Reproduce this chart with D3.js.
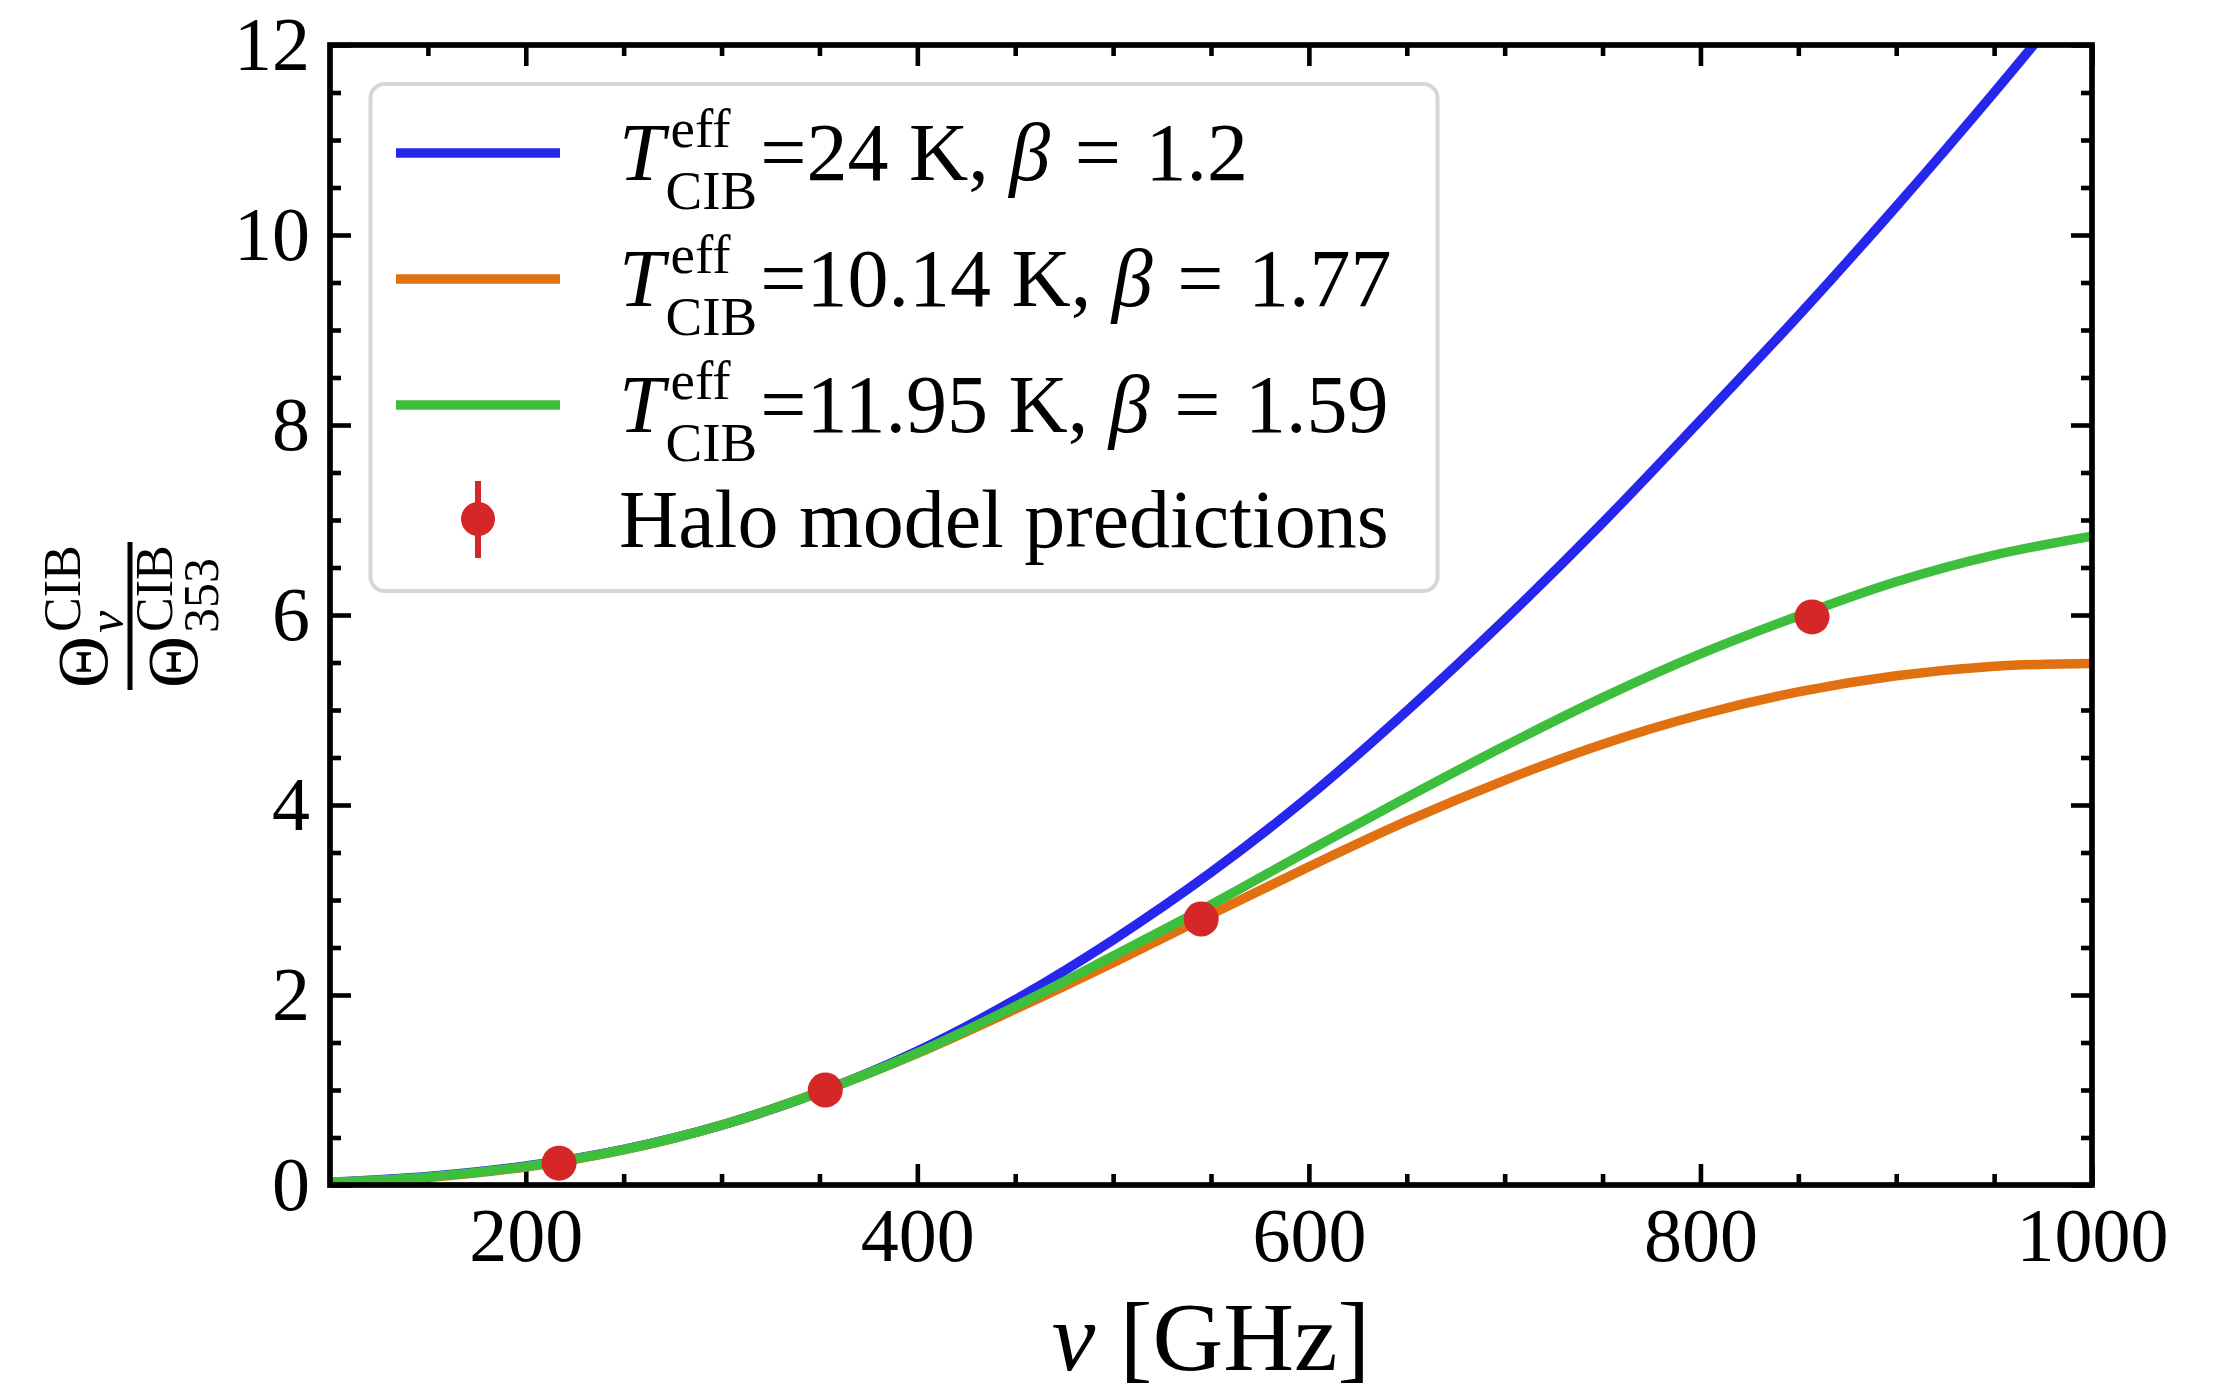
<!DOCTYPE html>
<html>
<head>
<meta charset="utf-8">
<script src="https://cdn.jsdelivr.net/npm/d3@7"></script>
<style>
  body { margin: 0; background: #fff; }
  svg { display: block; font-family: "Liberation Serif", "DejaVu Serif", serif; }
  text { white-space: pre; fill: #000; }
</style>
</head>
<body>
<svg id="chart" width="2217" height="1395"></svg>
<script>
"use strict";

const nu = [100, 150, 200, 250, 300, 353, 400, 450, 500, 550, 600, 650, 700, 750, 800, 850, 900, 950, 1000];
const blueVals = [0.03, 0.09, 0.20, 0.375, 0.63, 1.0, 1.41, 1.95, 2.58, 3.29, 4.09, 4.99, 5.95, 6.97, 8.05, 9.15, 10.30, 11.50, 12.75];
const orangeVals = [0.025, 0.08, 0.19, 0.37, 0.63, 1.0, 1.385, 1.85, 2.34, 2.85, 3.35, 3.83, 4.26, 4.64, 4.95, 5.19, 5.36, 5.46, 5.49];
const greenVals = [0.028, 0.085, 0.195, 0.372, 0.63, 1.0, 1.39, 1.88, 2.41, 2.95, 3.52, 4.08, 4.62, 5.13, 5.59, 5.99, 6.35, 6.63, 6.83];

// halo model points
const haloNu = [217, 353, 545, 857];
const haloVals = [0.23, 1.0, 2.80, 5.98];

const temps = ["24", "10.14", "11.95"];
const betas = ["1.2", "1.77", "1.59"];
const colors = ["#2626ec", "#e07010", "#3dbf3d"];
const pointColor = "#d62728";

const xMajor = [200, 400, 600, 800, 1000];
const xTickLabels = ["200", "400", "600", "800", "1000"];
const yMajor = [0, 2, 4, 6, 8, 10, 12];
const yTickLabels = ["0", "2", "4", "6", "8", "10", "12"];

const svg = d3.select("#chart");
const pLeft = 330, pRight = 2092, pTop = 45, pBottom = 1185;

const x = d3.scaleLinear().domain([100, 1000]).range([pLeft, pRight]);
const y = d3.scaleLinear().domain([0, 12]).range([pBottom, pTop]);

const xMinor = d3.range(150, 1000, 50).filter(v => !xMajor.includes(v));
const yMinor = d3.range(0.5, 12, 0.5).filter(v => !yMajor.includes(v));

const majorLen = 21, minorLen = 11, tickW = 4.6, tickFont = 76;

function styleAxis(g) {
  g.attr("font-size", null).attr("font-family", null);
  g.select(".domain").remove();
  g.selectAll(".tick line").attr("stroke", "#000").attr("stroke-width", tickW);
  g.selectAll(".tick text").attr("font-size", tickFont).attr("fill", "#000");
}

// bottom
svg.append("g").attr("transform", `translate(0,${pBottom})`)
  .call(d3.axisBottom(x).tickValues(xMajor).tickSize(-majorLen).tickPadding(22)
    .tickFormat((d, i) => xTickLabels[i]))
  .call(styleAxis);
svg.append("g").attr("transform", `translate(0,${pBottom})`)
  .call(d3.axisBottom(x).tickValues(xMinor).tickSize(-minorLen).tickFormat(""))
  .call(styleAxis);
// top
svg.append("g").attr("transform", `translate(0,${pTop})`)
  .call(d3.axisTop(x).tickValues(xMajor).tickSize(-majorLen).tickFormat(""))
  .call(styleAxis);
svg.append("g").attr("transform", `translate(0,${pTop})`)
  .call(d3.axisTop(x).tickValues(xMinor).tickSize(-minorLen).tickFormat(""))
  .call(styleAxis);
// left
svg.append("g").attr("transform", `translate(${pLeft},0)`)
  .call(d3.axisLeft(y).tickValues(yMajor).tickSize(-majorLen).tickPadding(20)
    .tickFormat((d, i) => yTickLabels[i]))
  .call(styleAxis);
svg.append("g").attr("transform", `translate(${pLeft},0)`)
  .call(d3.axisLeft(y).tickValues(yMinor).tickSize(-minorLen).tickFormat(""))
  .call(styleAxis);
// right
svg.append("g").attr("transform", `translate(${pRight},0)`)
  .call(d3.axisRight(y).tickValues(yMajor).tickSize(-majorLen).tickFormat(""))
  .call(styleAxis);
svg.append("g").attr("transform", `translate(${pRight},0)`)
  .call(d3.axisRight(y).tickValues(yMinor).tickSize(-minorLen).tickFormat(""))
  .call(styleAxis);

// curves
svg.append("clipPath").attr("id", "plotclip")
  .append("rect").attr("x", pLeft).attr("y", pTop)
  .attr("width", pRight - pLeft).attr("height", pBottom - pTop);

const line = d3.line()
  .x((d, i) => x(nu[i]))
  .y(d => y(d))
  .curve(d3.curveCatmullRom.alpha(0.5));

const curves = svg.append("g").attr("clip-path", "url(#plotclip)");
[blueVals, orangeVals, greenVals].forEach((vals, k) => {
  curves.append("path")
    .attr("d", line(vals))
    .attr("fill", "none")
    .attr("stroke", colors[k])
    .attr("stroke-width", 9.5)
    .attr("stroke-linejoin", "round");
});

svg.append("g").selectAll("circle")
  .data(haloVals)
  .enter()
  .append("circle")
  .attr("cx", (d, i) => x(haloNu[i]))
  .attr("cy", d => y(d))
  .attr("r", 17.5)
  .attr("fill", pointColor);

// frame
svg.append("rect")
  .attr("x", pLeft).attr("y", pTop)
  .attr("width", pRight - pLeft).attr("height", pBottom - pTop)
  .attr("fill", "none").attr("stroke", "#000").attr("stroke-width", 5.7);

// legend
const legFont = 82, legSmall = 55;
const leg = svg.append("g");
leg.append("rect")
  .attr("x", 370.5).attr("y", 84).attr("width", 1067).attr("height", 507)
  .attr("rx", 14).attr("fill", "#fff").attr("fill-opacity", 0.8)
  .attr("stroke", "#d6d6d6").attr("stroke-width", 4);

const rowY = [153, 279, 405];
const textX = 619;

temps.forEach((t, i) => {
  leg.append("line")
    .attr("x1", 396).attr("x2", 560)
    .attr("y1", rowY[i]).attr("y2", rowY[i])
    .attr("stroke", colors[i]).attr("stroke-width", 9.5);

  // T with stacked eff / CIB, then the rest
  const b = rowY[i] + 27;
  const txt = leg.append("text").attr("x", textX).attr("y", b).attr("font-size", legFont);
  const T = txt.append("tspan").attr("font-style", "italic").text("T");
  const wT = T.node().getComputedTextLength();
  const sup = leg.append("text").attr("x", textX + wT + 6).attr("y", b - 33)
    .attr("font-size", legSmall).text("eff");
  const sub = leg.append("text").attr("x", textX + wT + 1).attr("y", b + 29)
    .attr("font-size", legSmall).text("CIB");
  const end = Math.max(textX + wT + 6 + sup.node().getComputedTextLength(),
                       textX + wT + 1 + sub.node().getComputedTextLength());
  txt.append("tspan").attr("x", end + 3).attr("y", b).text("=" + t + " K, ");
  txt.append("tspan").attr("font-style", "italic").text("β");
  txt.append("tspan").attr("dx", "0.3em").text("=");
  txt.append("tspan").attr("dx", "0.3em").text(betas[i]);
});

// halo legend entry
leg.append("line")
  .attr("x1", 478).attr("x2", 478).attr("y1", 481).attr("y2", 558)
  .attr("stroke", pointColor).attr("stroke-width", 6);
leg.append("circle").attr("cx", 478).attr("cy", 519).attr("r", 17).attr("fill", pointColor);
leg.append("text").attr("x", textX).attr("y", 547).attr("font-size", legFont)
  .text("Halo model predictions");

// x label
const xl = svg.append("text").attr("x", (pLeft + pRight) / 2).attr("y", 1370)
  .attr("text-anchor", "middle").attr("font-size", 98);
xl.append("tspan").attr("font-style", "italic").text("ν");
xl.append("tspan").text(" [GHz]");

// y label: fraction, rotated
const yl = svg.append("g").attr("transform", "translate(130,616) rotate(-90)");
yl.append("line").attr("x1", -74).attr("x2", 74).attr("y1", 0).attr("y2", 0)
  .attr("stroke", "#000").attr("stroke-width", 5);
const num = yl.append("text").attr("x", -72).attr("y", -23).attr("font-size", 72);
num.append("tspan").text("Θ");
num.append("tspan").attr("x", -16).attr("y", -50).attr("font-size", 52).text("CIB");
num.append("tspan").attr("x", -17).attr("y", -7).attr("font-size", 50)
  .attr("font-style", "italic").text("ν");
const den = yl.append("text").attr("x", -72).attr("y", 67).attr("font-size", 72);
den.append("tspan").text("Θ");
den.append("tspan").attr("x", -16).attr("y", 42).attr("font-size", 52).text("CIB");
den.append("tspan").attr("x", -17).attr("y", 88).attr("font-size", 50).text("353");
</script>
</body>
</html>
